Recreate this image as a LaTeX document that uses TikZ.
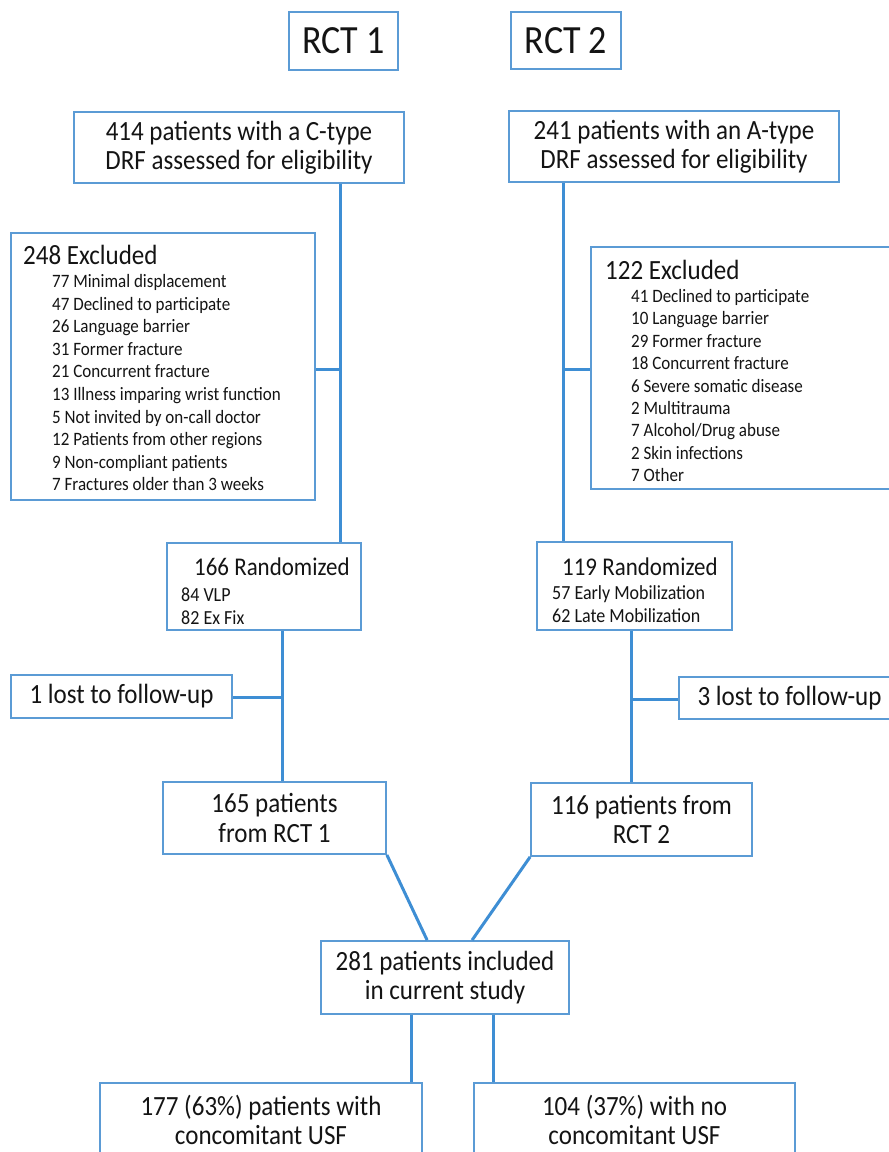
\documentclass[tikz,border=0pt]{standalone}
\usepackage{fontspec}
\setmainfont[FakeStretch=0.9]{Carlito}
\usetikzlibrary{calc}
\definecolor{boxblue}{RGB}{91,155,213}
\definecolor{lineblue}{RGB}{62,142,212}
\definecolor{txt}{RGB}{20,20,20}
\newcommand\fsRCT{\fontsize{40}{44}\selectfont}
\newcommand\fsMain{\fontsize{27.8}{29.5}\selectfont}
\newcommand\fsHead{\fontsize{25.5}{28}\selectfont}
\newcommand\fsItem{\fontsize{18.9}{21}\selectfont}
\newcommand\fsRItem{\fontsize{20}{22}\selectfont}
\begin{document}
\begin{tikzpicture}[x=1pt,y=-1pt,
  box/.style={draw=boxblue, line width=1.8pt, rectangle, inner sep=0pt, align=center, text=txt, font=\fsMain},
  conn/.style={draw=lineblue, line width=3pt},
  item/.style={inner sep=0pt, anchor=base west, text=txt, font=\fsItem},
  ritem/.style={inner sep=0pt, anchor=base west, text=txt, font=\fsRItem},
  head/.style={inner sep=0pt, anchor=base west, text=txt, font=\fsMain},
  rhead/.style={inner sep=0pt, anchor=base west, text=txt, font=\fsHead},
  ctext/.style={inner sep=0pt, align=center, text=txt, font=\fsMain}]
\useasboundingbox (0,0) rectangle (889,1152);
\fill[white] (0,0) rectangle (889,1152);

% titles
\node[box, font=\fsRCT, minimum width=109, minimum height=58] (rct1) at (343.5,41) {RCT 1};
\node[box, font=\fsRCT, minimum width=110, minimum height=57] (rct2) at (566,40.5) {RCT 2};

% eligibility
\node[box, minimum width=330, minimum height=71] (c414) at (239,147.5) {414 patients with a C-type\\DRF assessed for eligibility};
\node[box, minimum width=330, minimum height=71] (a241) at (674,146.5) {241 patients with an A-type\\DRF assessed for eligibility};

% excluded boxes
\node[box, minimum width=304, minimum height=267] (ex1) at (163,366.5) {};
\node[head] (ex1h) at (23,264) {248 Excluded};
\foreach \t [count=\i from 0] in {{77 Minimal displacement},{47 Declined to participate},{26 Language barrier},{31 Former fracture},{21 Concurrent fracture},{13 Illness imparing wrist function},{5 Not invited by on-call doctor},{12 Patients from other regions},{9 Non-compliant patients},{7 Fractures older than 3 weeks}}
  \node[item] (ex1i\i) at (52,{287.5+22.6*\i}) {\t};

\node[box, minimum width=309, minimum height=242] (ex2) at (745.5,368) {};
\node[head] (ex2h) at (605,279) {122 Excluded};
\foreach \t [count=\i from 0] in {{41 Declined to participate},{10 Language barrier},{29 Former fracture},{18 Concurrent fracture},{6 Severe somatic disease},{2 Multitrauma},{7 Alcohol/Drug abuse},{2 Skin infections},{7 Other}}
  \node[item] (ex2i\i) at (631,{302.5+22.4*\i}) {\t};

% randomized
\node[box, minimum width=194, minimum height=87] (r166) at (264,586.5) {};
\node[rhead] (r166h) at (194,575) {166 Randomized};
\node[ritem] (r166a) at (181,601) {84 VLP};
\node[ritem] (r166b) at (181,624) {82 Ex Fix};

\node[box, minimum width=195, minimum height=88] (r119) at (634.5,586) {};
\node[rhead] (r119h) at (562,575) {119 Randomized};
\node[ritem] (r119a) at (552,599) {57 Early Mobilization};
\node[ritem] (r119b) at (552,622) {62 Late Mobilization};

% lost
\node[box, minimum width=221, minimum height=43] (l1) at (121.5,696.5) {1 lost to follow-up};
\node[box, minimum width=221, minimum height=42] (l3) at (789.5,698) {3 lost to follow-up};

% patients
\node[box, minimum width=223, minimum height=72] (p165) at (274.5,818) {165 patients\\from RCT 1};
\node[box, minimum width=221, minimum height=73] (p116) at (641.5,819.5) {116 patients from\\RCT 2};
\node[box, minimum width=248, minimum height=73] (p281) at (445,977.5) {281 patients included\\in current study};
\node[box, minimum width=322, minimum height=80] (u177) at (261,1123) {};
\node[ctext] (u177t) at (261,1120) {177 (63\%) patients with\\concomitant USF};
\node[box, minimum width=321, minimum height=80] (u104) at (634.5,1123) {};
\node[ctext] (u104t) at (634.5,1120) {104 (37\%) with no\\concomitant USF};

% junction coordinates
\coordinate (j1) at (340,369);
\coordinate (j2) at (563,369);
\coordinate (j3) at (282,697);
\coordinate (j4) at (631,699);
\coordinate (j5) at (411,1050);
\coordinate (j6) at (493,1050);

% connectors
\draw[conn] (c414.south -| j1) -- (r166.north -| j1);
\draw[conn] (ex1.east |- j1) -- (j1);
\draw[conn] (a241.south -| j2) -- (r119.north -| j2);
\draw[conn] (j2) -- (ex2.west |- j2);
\draw[conn] (r166.south -| j3) -- (p165.north -| j3);
\draw[conn] (l1.east |- j3) -- (j3);
\draw[conn] (r119.south -| j4) -- (p116.north -| j4);
\draw[conn] (j4) -- (l3.west |- j4);
\draw[conn] (p165.south east) -- ($(p281.north west)+(107,0)$);
\draw[conn] (p116.south west) -- ($(p281.north west)+(152,0)$);
\draw[conn] (p281.south -| j5) -- (u177.north -| j5);
\draw[conn] (p281.south -| j6) -- (u104.north -| j6);
\end{tikzpicture}
\end{document}
